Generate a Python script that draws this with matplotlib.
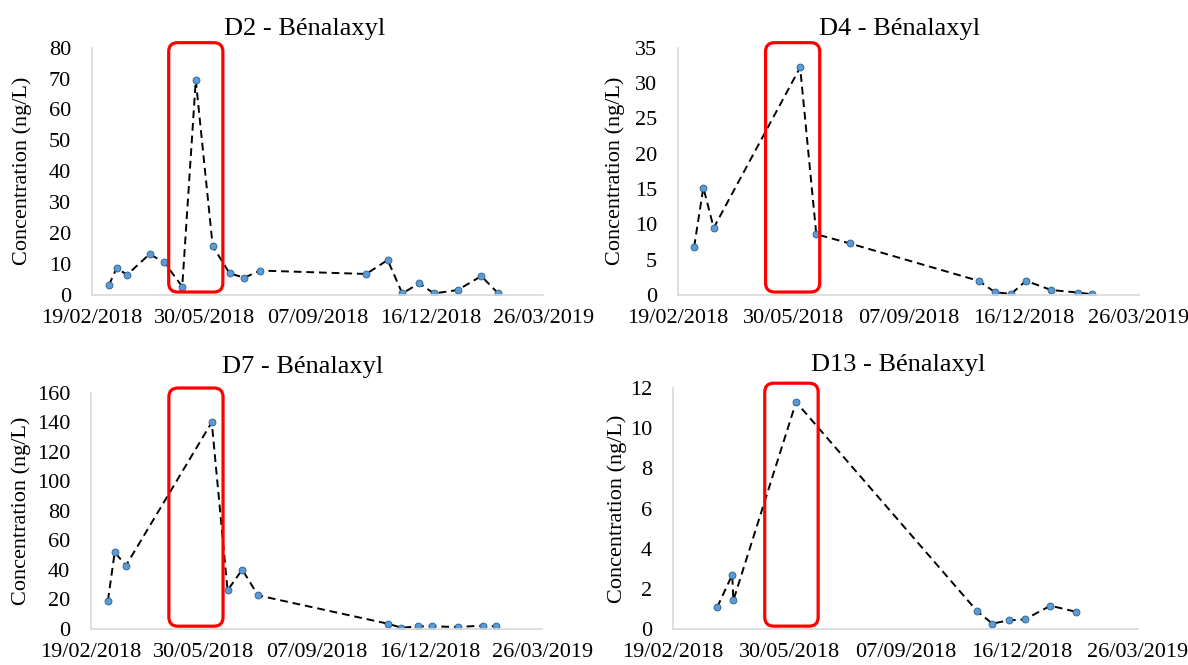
import matplotlib
matplotlib.use("Agg")
from matplotlib import pyplot as plt
import matplotlib.dates as mdates
from matplotlib.patches import FancyBboxPatch
import pandas as pd

plt.rcParams['font.family'] = ['Liberation Serif', 'DejaVu Serif']

# sampling dates and concentrations (ng/L) per site
d2_dates = ["2018-03-06", "2018-03-13", "2018-03-22", "2018-04-11", "2018-04-24", "2018-05-10",
            "2018-05-22", "2018-06-06", "2018-06-21", "2018-07-04", "2018-07-18", "2018-10-20",
            "2018-11-08", "2018-11-21", "2018-12-06", "2018-12-19", "2019-01-09", "2019-01-30",
            "2019-02-14"]
d2_vals = [3.2, 8.8, 6.5, 13.2, 10.6, 2.7, 69.5, 15.8, 7.0, 5.6, 7.9, 6.8, 11.3, 0.5, 3.8, 0.5, 1.6, 6.1, 0.5]

d4_dates = ["2018-03-05", "2018-03-13", "2018-03-22", "2018-06-05", "2018-06-19", "2018-07-18",
            "2018-11-07", "2018-11-21", "2018-12-05", "2018-12-18", "2019-01-09", "2019-02-01",
            "2019-02-13"]
d4_vals = [6.8, 15.2, 9.5, 32.2, 8.6, 7.3, 2.0, 0.4, 0.15, 2.0, 0.7, 0.35, 0.1]

d7_dates = ["2018-03-06", "2018-03-12", "2018-03-22", "2018-06-06", "2018-06-20", "2018-07-03",
            "2018-07-17", "2018-11-09", "2018-11-21", "2018-12-06", "2018-12-18", "2019-01-10",
            "2019-02-01", "2019-02-13"]
d7_vals = [19.2, 52.0, 43.0, 140.0, 26.2, 40.2, 22.8, 3.6, 0.9, 1.8, 1.8, 1.4, 2.3, 1.8]

d13_dates = ["2018-03-29", "2018-04-11", "2018-04-12", "2018-06-05", "2018-11-08", "2018-11-21",
             "2018-12-05", "2018-12-19", "2019-01-10", "2019-02-01"]
d13_vals = [1.08, 2.7, 1.43, 11.3, 0.88, 0.27, 0.43, 0.48, 1.16, 0.86]

titles = ["D2 - Bénalaxyl", "D4 - Bénalaxyl", "D7 - Bénalaxyl", "D13 - Bénalaxyl"]
y_max = [80, 35, 160, 12]
y_step = [10, 5, 20, 2]
# highlighted period (red box) per panel
box_start = ["2018-04-28", "2018-05-06", "2018-04-29", "2018-05-09"]
box_end = ["2018-06-15", "2018-06-22", "2018-06-16", "2018-06-24"]

series = [(d2_dates, d2_vals), (d4_dates, d4_vals), (d7_dates, d7_vals), (d13_dates, d13_vals)]

x_ticks = pd.date_range("2018-02-19", periods=5, freq="100D")

W, H = 1188, 665
fig = plt.figure(figsize=(W / 100, H / 100), dpi=100)
positions = [[0.0774, 0.5564, 0.380, 0.372],
             [0.5707, 0.5564, 0.388, 0.372],
             [0.0766, 0.0541, 0.380, 0.3553],
             [0.5665, 0.0541, 0.391, 0.3624]]
title_x = [0.472, 0.48, 0.469, 0.485]
title_pad = [9, 9, 14, 12]
ylabel_x = [-0.133, -0.115, -0.133, -0.098]

for i in range(4):
    ax = fig.add_axes(positions[i])
    dates = pd.to_datetime(series[i][0])
    ax.plot(dates, series[i][1], linestyle="--", color="black", linewidth=1.4,
            dashes=(4, 2.5), marker="o", markersize=5, markerfacecolor="#5B9BD5",
            markeredgecolor="#2E5F8A", markeredgewidth=0.6)
    ax.set_xlim(x_ticks[0], x_ticks[-1])
    ax.set_ylim(0, y_max[i])
    ax.set_yticks(range(0, y_max[i] + 1, y_step[i]))
    ax.set_xticks(x_ticks)
    ax.xaxis.set_major_formatter(mdates.DateFormatter("%d/%m/%Y"))
    ax.tick_params(length=0, labelsize=16)
    ax.tick_params(axis="y", pad=15)
    ax.tick_params(axis="x", pad=10)
    for s in ["top", "right"]:
        ax.spines[s].set_visible(False)
    for s in ["left", "bottom"]:
        ax.spines[s].set_color("#D9D9D9")
        ax.spines[s].set_linewidth(1.2)
    ax.set_ylabel("Concentration (ng/L)", fontsize=16)
    ax.yaxis.set_label_coords(ylabel_x[i], 0.5)
    ax.set_title(titles[i], fontsize=19, pad=title_pad[i], x=title_x[i])

    # red rounded box around the highlighted period, drawn in figure space
    x0 = mdates.date2num(pd.Timestamp(box_start[i]))
    x1 = mdates.date2num(pd.Timestamp(box_end[i]))
    xa0 = ax.transData.transform((x0, 0))[0]
    xa1 = ax.transData.transform((x1, 0))[0]
    ya0 = ax.transAxes.transform((0, 0.012))[1]
    ya1 = ax.transAxes.transform((0, 1.02))[1]
    (fx0, fy0) = fig.transFigure.inverted().transform((xa0, ya0))
    (fx1, fy1) = fig.transFigure.inverted().transform((xa1, ya1))
    box = FancyBboxPatch((fx0, fy0), fx1 - fx0, fy1 - fy0,
                         boxstyle="round,pad=0,rounding_size=%f" % (9 / W),
                         mutation_aspect=W / H, transform=fig.transFigure,
                         fill=False, edgecolor="#FF0000", linewidth=2.3)
    fig.add_artist(box)

fig.savefig("out.png", dpi=100)
